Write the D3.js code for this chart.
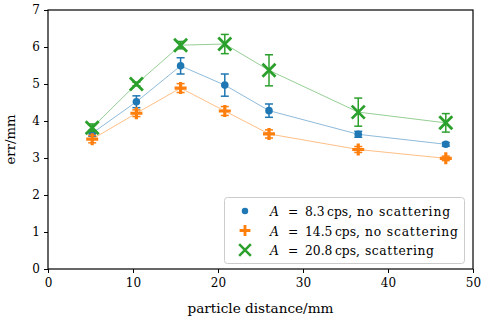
<!DOCTYPE html>
<html><head><meta charset="utf-8">
<script src="https://cdn.jsdelivr.net/npm/d3@7"></script>
<style>
html,body{margin:0;padding:0;background:#fff;}
text{font-family:"DejaVu Serif",serif;}
</style></head>
<body><svg id="c" width="483" height="322"></svg>
<script>
const xVals = [5.2, 10.4, 15.6, 20.8, 26.0, 36.5, 46.8];
const seriesLabels = ["8.3", "14.5", "20.8"];
const seriesSuffix = ["no scattering", "no scattering", "scattering"];
const blueY  = [3.67, 4.52, 5.49, 4.97, 4.28, 3.64, 3.37];
const blueE  = [0.08, 0.16, 0.22, 0.30, 0.18, 0.08, 0.05];
const orangeY = [3.51, 4.21, 4.89, 4.27, 3.65, 3.23, 2.99];
const orangeE = [0.10, 0.09, 0.12, 0.12, 0.11, 0.08, 0.06];
const greenY = [3.82, 5.00, 6.05, 6.08, 5.37, 4.24, 3.95];
const greenE = [0.10, 0.05, 0.10, 0.26, 0.42, 0.38, 0.25];
const xTicks = [0, 10, 20, 30, 40, 50];
const yTicks = [0, 1, 2, 3, 4, 5, 6, 7];
const colors = ["#1f77b4", "#ff7f0e", "#2ca02c"];
const lineColors = ["#8fbbda", "#ffbf86", "#95cf95"];

const svg = d3.select("#c");
const m = {l:48, r:473, t:10, b:269};
const x = d3.scaleLinear().domain([0,50]).range([m.l, m.r]);
const y = d3.scaleLinear().domain([0,7]).range([m.b, m.t]);

const series = [
  {ys: blueY, es: blueE},
  {ys: orangeY, es: orangeE},
  {ys: greenY, es: greenE}
];

const line = d3.line().x(d=>x(d[0])).y(d=>y(d[1]));
function marker(g, i, cx, cy, scale) {
  scale = scale || 1;
  if (i === 0) {
    g.append("circle").attr("cx", cx).attr("cy", cy).attr("r", 3.8*scale).attr("fill", colors[0]);
  } else if (i === 1) {
    const s = 6*scale, w = 1.6*scale;
    g.append("path").attr("d",
      `M${cx-w},${cy-s}H${cx+w}V${cy-w}H${cx+s}V${cy+w}H${cx+w}V${cy+s}H${cx-w}V${cy+w}H${cx-s}V${cy-w}H${cx-w}Z`)
      .attr("fill", colors[1]);
  } else {
    const s = 6.5*scale;
    g.append("path").attr("d", `M${cx-s},${cy-s}L${cx+s},${cy+s}M${cx-s},${cy+s}L${cx+s},${cy-s}`)
      .attr("stroke", colors[2]).attr("stroke-width", 2.8*scale).attr("fill","none");
  }
}

series.forEach((s, i) => {
  svg.append("path").datum(xVals.map((xv,j)=>[xv, s.ys[j]]))
    .attr("d", line).attr("fill","none").attr("stroke", lineColors[i]).attr("stroke-width", 1);
});
series.forEach((s, i) => {
  const g = svg.append("g");
  xVals.forEach((xv, j) => {
    const cx = x(xv), y0 = y(s.ys[j]-s.es[j]), y1 = y(s.ys[j]+s.es[j]);
    g.append("line").attr("x1",cx).attr("x2",cx).attr("y1",y0).attr("y2",y1)
      .attr("stroke", colors[i]).attr("stroke-width",1.5);
    [y0,y1].forEach(yy => g.append("line").attr("x1",cx-4).attr("x2",cx+4).attr("y1",yy).attr("y2",yy)
      .attr("stroke", colors[i]).attr("stroke-width",1.5));
    marker(g, i, cx, y(s.ys[j]));
  });
});

svg.append("rect").attr("x",m.l).attr("y",m.t).attr("width",m.r-m.l).attr("height",m.b-m.t)
  .attr("fill","none").attr("stroke","#000").attr("stroke-width",1.2);

const xa = svg.append("g").attr("transform",`translate(0,${m.b})`)
  .call(d3.axisBottom(x).tickValues(xTicks).tickSize(4).tickPadding(5).tickFormat(d3.format("d")));
const ya = svg.append("g").attr("transform",`translate(${m.l},0)`)
  .call(d3.axisLeft(y).tickValues(yTicks).tickSize(4).tickPadding(4).tickFormat(d3.format("d")));
[xa, ya].forEach(a => {
  a.select(".domain").remove();
  a.selectAll("line").attr("stroke","#000").attr("stroke-width",1);
  a.selectAll("text").attr("font-size",12).attr("fill","#000")
    .attr("font-family","'DejaVu Serif',serif");
});

function fitText(t, target) {
  const len = t.node().getComputedTextLength();
  const fs = parseFloat(t.attr("font-size"));
  if (len > 0) t.attr("font-size", fs * target / len);
}
const xl = svg.append("text").attr("x", (m.l+m.r)/2).attr("y", 313).attr("text-anchor","middle")
  .attr("font-size",12).text("particle distance/mm");
fitText(xl, 146);
const yl = svg.append("text").attr("transform",`translate(15,${(m.t+m.b)/2}) rotate(-90)`)
  .attr("text-anchor","middle").attr("font-size",12).text("err/mm");
fitText(yl, 50);

const lg = svg.append("g");
lg.append("rect").attr("x",224.5).attr("y",197.5).attr("width",240).attr("height",66).attr("rx",3)
  .attr("fill","#fff").attr("fill-opacity",0.85).attr("stroke","#ccc").attr("stroke-width",1);
seriesLabels.forEach((lab, i) => {
  const yy = 211 + i*19.5;
  marker(lg, i, 245, yy, i===0 ? 0.85 : 0.9);
  const base = yy + 5;
  const piece = (xx, str, italic) => {
    const t = lg.append("text").attr("x", xx).attr("y", base).attr("font-size", 12.3).text(str);
    if (italic) t.attr("font-style","italic");
    return xx + t.node().getComputedTextLength();
  };
  piece(270, "A", true);
  piece(288, "=");
  let cx = piece(305, lab);
  cx = piece(cx + 2.5, "cps,");
  const sx = cx + 5;
  const st = lg.append("text").attr("x", sx).attr("y", base).attr("font-size", 12.3).text(seriesSuffix[i]);
  const target = seriesSuffix[i] === "scattering" ? 69 : 93;
  const len = st.node().getComputedTextLength();
  st.attr("textLength", target).attr("lengthAdjust", "spacing");
  if (len <= 0) st.attr("textLength", null);
});
</script></body></html>
